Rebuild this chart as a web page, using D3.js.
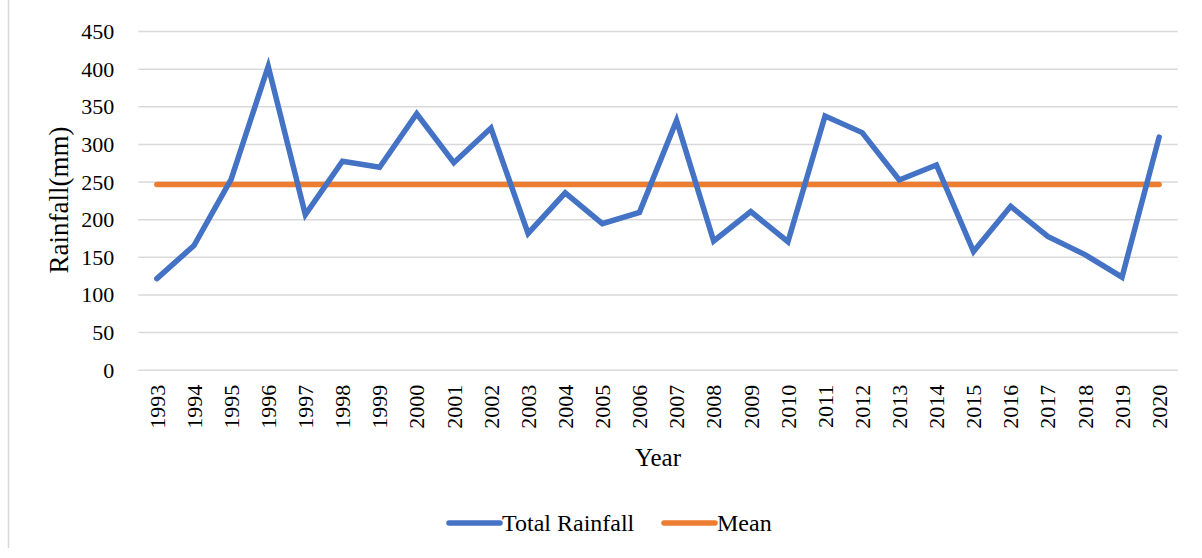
<!DOCTYPE html>
<html><head><meta charset="utf-8">
<script src="https://cdn.jsdelivr.net/npm/d3@7"></script>
<style>
body{margin:0;background:#fff;}
text{font-family:"Liberation Serif","Times New Roman",serif;fill:#000;}
</style></head>
<body><svg id="c" width="1202" height="558"></svg>
<script>
const years = ["1993","1994","1995","1996","1997","1998","1999","2000","2001","2002","2003","2004","2005","2006","2007","2008","2009","2010","2011","2012","2013","2014","2015","2016","2017","2018","2019","2020"];
const totalRainfall = [121,165,253,403,206,277,269,340,275,321,181,235,194,209,331,171,210,170,337,315,252,272,157,217,177,153,123,309];
const meanValues = [246,246,246,246,246,246,246,246,246,246,246,246,246,246,246,246,246,246,246,246,246,246,246,246,246,246,246,246];
const yTicks = [0,50,100,150,200,250,300,350,400,450];
const seriesNames = ["Total Rainfall","Mean"];
const colors = ["#4472C4","#ED7D31"];

(function(){
const svg = d3.select("#c");
const mLeft = 138.3, mRight = 1177.7, mTop = 31, mBottom = 369.7;
const x = d3.scaleBand().domain(years).range([mLeft, mRight]).padding(0);
const y = d3.scaleLinear().domain([0,450]).range([mBottom, mTop]);
const cx = d => x(d) + x.bandwidth()/2;

// left border
svg.append("line").attr("x1",8.5).attr("x2",8.5).attr("y1",0).attr("y2",548)
  .attr("stroke","#d9d9d9").attr("stroke-width",1.5);

// gridlines
const yAxis = d3.axisLeft(y).tickValues(yTicks).tickSize(-(mRight-mLeft)).tickPadding(24);
const gy = svg.append("g").attr("transform",`translate(${mLeft},0)`).call(yAxis);
gy.select(".domain").remove();
gy.selectAll(".tick line").attr("stroke","#d9d9d9").attr("stroke-width",1.5);
gy.selectAll(".tick text").attr("font-size",22).attr("font-family","Liberation Serif").attr("dy","0.34em");

// x axis labels
const xAxis = d3.axisBottom(x).tickSize(0).tickPadding(0);
const gx = svg.append("g").attr("transform",`translate(0,${mBottom})`).call(xAxis);
gx.select(".domain").remove();
gx.selectAll(".tick text").attr("font-size",22).attr("font-family","Liberation Serif")
  .attr("text-anchor","end").attr("transform","rotate(-90)")
  .attr("x",-15).attr("y",0).attr("dy","0.35em");

// lines
const line = d3.line().x((d,i)=>cx(years[i])).y(d=>y(d));
svg.append("path").datum(meanValues).attr("d",line).attr("fill","none")
  .attr("stroke",colors[1]).attr("stroke-width",5.5).attr("stroke-linecap","round");
svg.append("path").datum(totalRainfall).attr("d",line).attr("fill","none")
  .attr("stroke",colors[0]).attr("stroke-width",5.5).attr("stroke-linecap","round").attr("stroke-linejoin","miter");

// axis titles
svg.append("text").attr("x",658).attr("y",466).attr("text-anchor","middle").attr("font-size",25).text("Year");
svg.append("text").attr("transform","translate(68,200) rotate(-90)").attr("text-anchor","middle").attr("font-size",27).text("Rainfall(mm)");

// legend
const legend = [{x1:449,x2:500,tx:502},{x1:664,x2:715,tx:717}];
legend.forEach((l,i)=>{
  svg.append("line").attr("x1",l.x1).attr("x2",l.x2).attr("y1",523).attr("y2",523)
    .attr("stroke",colors[i]).attr("stroke-width",5.5).attr("stroke-linecap","round");
  svg.append("text").attr("x",l.tx).attr("y",531).attr("font-size",24).text(seriesNames[i]);
});
})();
</script></body></html>
